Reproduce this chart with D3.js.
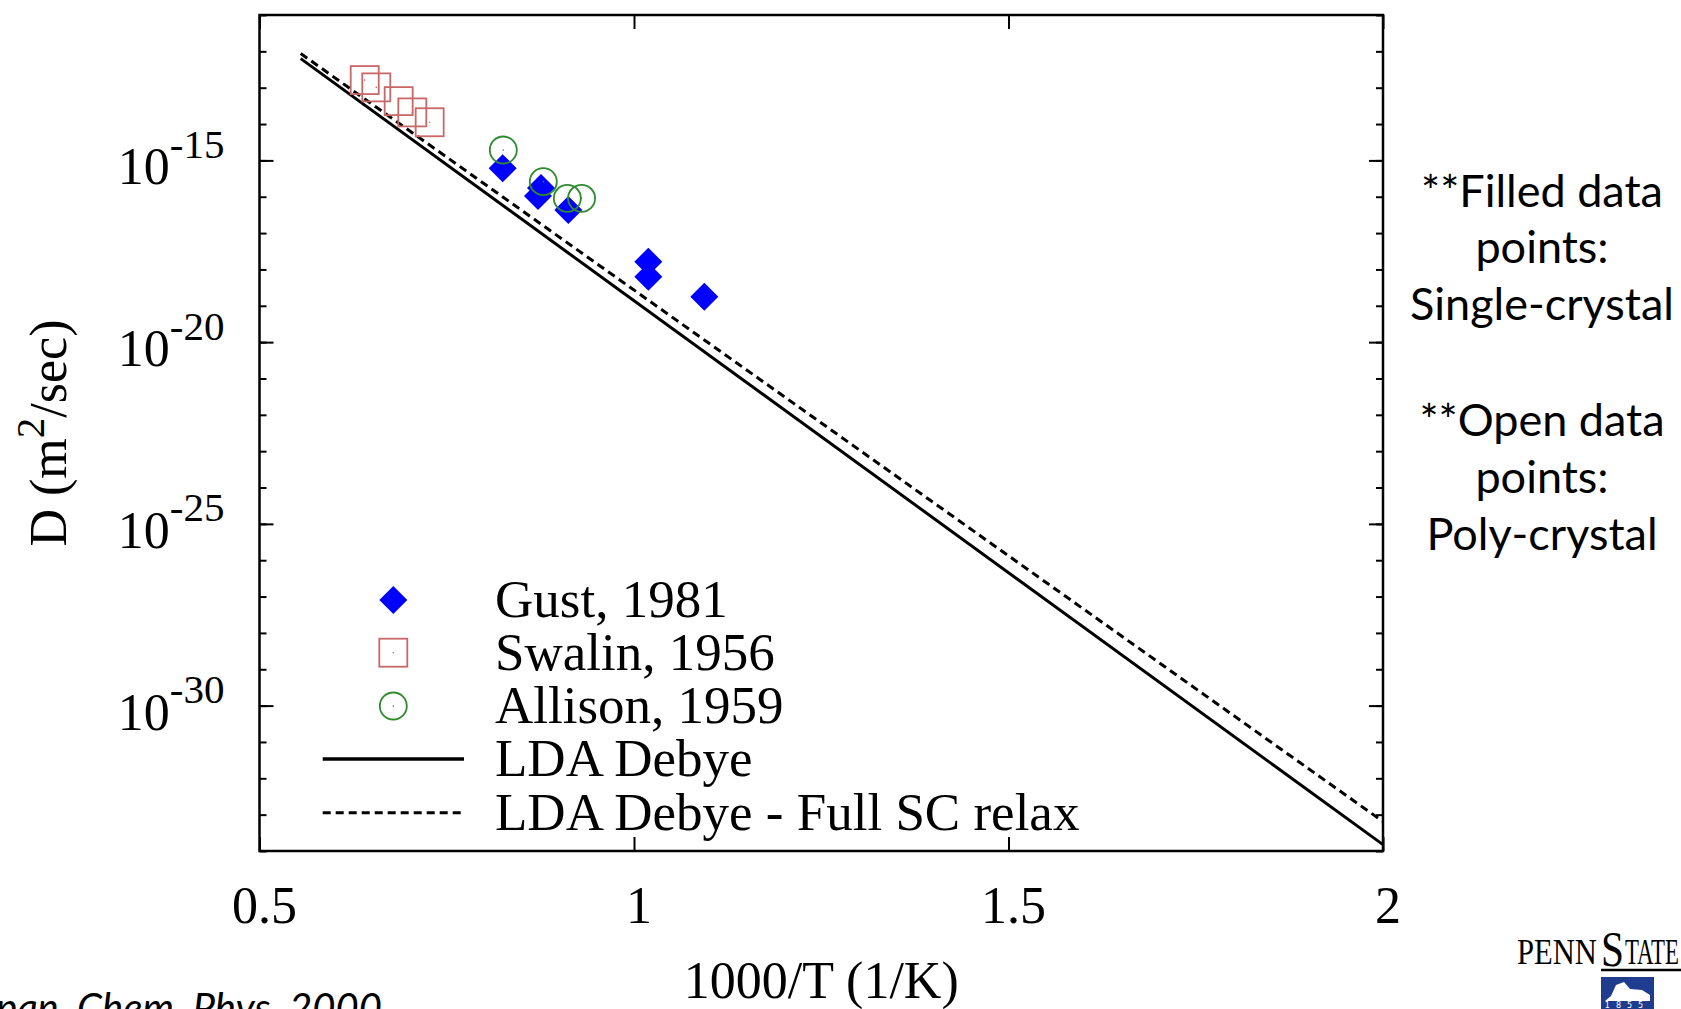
<!DOCTYPE html>
<html>
<head>
<meta charset="utf-8">
<script src="https://cdn.jsdelivr.net/npm/d3@7"></script>
<style>
  body { margin: 0; background: #fff; }
  svg { display: block; }
  .serif { font-family: "Liberation Serif", "DejaVu Serif", serif; fill: #000; }
  .note { font-family: Lato, "Open Sans", sans-serif; fill: #000; }
</style>
</head>
<body>
<svg id="svg"></svg>
<script>
//data

let gustX = [0.8247, 0.8758, 0.8718, 0.9123, 1.0191, 1.0191, 1.0939];
let gustD = [6.07e-16, 1.74e-16, 1.05e-16, 4.31e-17, 1.63e-18, 6.3e-19, 1.78e-19];

let swalinX = [0.6405, 0.6559, 0.6858, 0.7040, 0.7272];
let swalinD = [1.62e-13, 1.02e-13, 4.27e-14, 2.09e-14, 1.12e-14];

let allisonX = [0.8255, 0.8789, 0.911, 0.930];
let allisonD = [1.93e-15, 2.6e-16, 9.06e-17, 9.06e-17];

let ldaX = [0.555, 2.0];
let ldaD = [6.3e-13, 1.5e-34];
let relaxX = [0.555, 2.0];
let relaxD = [8.7e-13, 6.46e-34];

let xTicks = [0.5, 1, 1.5, 2];
let xTickLabels = ["0.5", "1", "1.5", "2"];
let yTickExps = [-30, -25, -20, -15];
let legendLabels = ["Gust, 1981", "Swalin, 1956", "Allison, 1959", "LDA Debye", "LDA Debye - Full SC relax"];
let noteLines = ["**Filled data", "points:", "Single-crystal", "**Open data", "points:", "Poly-crystal"];

//variables

let width = 1681;
let height = 1009;
let plotLeft = 259.5, plotRight = 1383, plotTop = 15, plotBottom = 851;

let blue = "#0000ff";
let red = "#c86868";
let green = "#2e8b2e";

let svg = d3.select("#svg").attr("width", width).attr("height", height);

let xScale = d3.scaleLinear().domain([0.5, 2]).range([plotLeft, plotRight]);
let yScale = d3.scaleLog().domain([1e-34, 1e-11]).range([plotBottom, plotTop]);

//axes

let makeAxes = () => {
  let minorY = d3.range(-34, -10).map(e => Math.pow(10, e));
  let majorY = yTickExps.map(e => Math.pow(10, e));

  let addAxis = (axis, tx, ty) => {
    svg.append("g")
      .attr("transform", "translate(" + tx + "," + ty + ")")
      .call(axis)
      .call(g => g.select(".domain").remove())
      .call(g => g.selectAll("line").attr("stroke", "#000").attr("stroke-width", 2));
  };

  addAxis(d3.axisLeft(yScale).tickValues(minorY).tickSize(-7).tickFormat(""), plotLeft, 0);
  addAxis(d3.axisLeft(yScale).tickValues(majorY).tickSize(-14).tickFormat(""), plotLeft, 0);
  addAxis(d3.axisRight(yScale).tickValues(minorY).tickSize(-7).tickFormat(""), plotRight, 0);
  addAxis(d3.axisRight(yScale).tickValues(majorY).tickSize(-14).tickFormat(""), plotRight, 0);
  addAxis(d3.axisBottom(xScale).tickValues(xTicks).tickSize(-14).tickFormat(""), 0, plotBottom);
  addAxis(d3.axisTop(xScale).tickValues(xTicks).tickSize(-14).tickFormat(""), 0, plotTop);

  svg.append("rect")
    .attr("x", plotLeft).attr("y", plotTop)
    .attr("width", plotRight - plotLeft).attr("height", plotBottom - plotTop)
    .attr("fill", "none").attr("stroke", "#000").attr("stroke-width", 2.5);

  svg.selectAll(".xlab")
    .data(xTicks)
    .enter()
    .append("text")
    .attr("class", "serif xlab")
    .attr("x", d => xScale(d) + 5)
    .attr("y", plotBottom + 72)
    .attr("text-anchor", "middle")
    .attr("font-size", 52)
    .text((d, i) => xTickLabels[i]);

  let ylab = svg.selectAll(".ylab")
    .data(yTickExps)
    .enter()
    .append("text")
    .attr("class", "serif ylab")
    .attr("x", plotLeft - 35)
    .attr("y", d => yScale(Math.pow(10, d)) + 24)
    .attr("text-anchor", "end")
    .attr("font-size", 52);
  ylab.append("tspan").text("10");
  ylab.append("tspan").attr("dy", -26.5).attr("font-size", 41).text(d => String(d));

  svg.append("text")
    .attr("class", "serif")
    .attr("x", (plotLeft + plotRight) / 2)
    .attr("y", 998)
    .attr("text-anchor", "middle")
    .attr("font-size", 52)
    .text("1000/T (1/K)");

  let ytitle = svg.append("text")
    .attr("class", "serif")
    .attr("transform", "translate(66," + (plotTop + plotBottom) / 2 + ") rotate(-90)")
    .attr("text-anchor", "middle")
    .attr("font-size", 52);
  ytitle.append("tspan").text("D (m");
  ytitle.append("tspan").attr("dy", -22).attr("font-size", 41).text("2");
  ytitle.append("tspan").attr("dy", 22).text("/sec)");
}

//marks

let drawDiamond = (g, x, y) => {
  g.append("path")
    .attr("d", d3.symbol(d3.symbolSquare, 392)())
    .attr("transform", "translate(" + x + "," + y + ") rotate(45)")
    .attr("fill", blue);
}

let drawSquare = (g, x, y) => {
  g.append("rect")
    .attr("x", x - 14).attr("y", y - 14)
    .attr("width", 28).attr("height", 28)
    .attr("fill", "none").attr("stroke", red).attr("stroke-width", 1.8);
  g.append("circle").attr("cx", x).attr("cy", y).attr("r", 0.8).attr("fill", red);
}

let drawCircle = (g, x, y) => {
  g.append("circle")
    .attr("cx", x).attr("cy", y).attr("r", 13.5)
    .attr("fill", "none").attr("stroke", green).attr("stroke-width", 1.8);
  g.append("circle").attr("cx", x).attr("cy", y).attr("r", 0.8).attr("fill", green);
}

let makeGraph = () => {
  let line = d3.line()
    .x(d => xScale(d[0]))
    .y(d => yScale(d[1]));

  svg.append("path")
    .datum(d3.zip(ldaX, ldaD))
    .attr("d", line)
    .attr("fill", "none")
    .attr("stroke", "#000")
    .attr("stroke-width", 3);

  svg.append("path")
    .datum(d3.zip(relaxX, relaxD))
    .attr("d", line)
    .attr("fill", "none")
    .attr("stroke", "#000")
    .attr("stroke-width", 3)
    .attr("stroke-dasharray", "8,5");

  let pts = svg.append("g");
  swalinX.forEach((x, i) => drawSquare(pts, xScale(x), yScale(swalinD[i])));
  gustX.forEach((x, i) => drawDiamond(pts, xScale(x), yScale(gustD[i])));
  allisonX.forEach((x, i) => drawCircle(pts, xScale(x), yScale(allisonD[i])));
}

let makeLegend = () => {
  let lg = svg.append("g");
  let rowY = [600, 652.7, 706, 759, 812.7];
  let mx = 393.3;

  drawDiamond(lg, mx, rowY[0]);
  drawSquare(lg, mx, rowY[1]);
  drawCircle(lg, mx, rowY[2]);
  lg.append("line")
    .attr("x1", 322.7).attr("x2", 464).attr("y1", rowY[3]).attr("y2", rowY[3])
    .attr("stroke", "#000").attr("stroke-width", 3.5);
  lg.append("line")
    .attr("x1", 322.7).attr("x2", 464).attr("y1", rowY[4]).attr("y2", rowY[4])
    .attr("stroke", "#000").attr("stroke-width", 3).attr("stroke-dasharray", "8,5");

  lg.selectAll("text")
    .data(legendLabels)
    .enter()
    .append("text")
    .attr("class", "serif")
    .attr("x", 495)
    .attr("y", (d, i) => rowY[i] + 17)
    .attr("font-size", 53)
    .text(d => d);
}

let makeNotes = () => {
  let baselines = [207, 263, 319.5, 436, 493, 550];
  svg.selectAll(".note")
    .data(noteLines)
    .enter()
    .append("text")
    .attr("class", "note")
    .attr("x", 1542)
    .attr("y", (d, i) => baselines[i])
    .attr("text-anchor", "middle")
    .attr("font-size", 45)
    .text(d => d);

  svg.append("text")
    .attr("class", "note")
    .attr("x", -4)
    .attr("y", 1022)
    .attr("font-size", 40)
    .attr("font-style", "italic")
    .text("pan, Chem. Phys. 2000");

  // Penn State mark
  svg.append("text")
    .attr("class", "serif")
    .attr("x", 1517).attr("y", 964)
    .attr("font-size", 36)
    .attr("textLength", 80)
    .attr("lengthAdjust", "spacingAndGlyphs")
    .text("PENN");
  svg.append("text")
    .attr("class", "serif")
    .attr("x", 1601).attr("y", 966)
    .attr("font-size", 50)
    .attr("textLength", 23)
    .attr("lengthAdjust", "spacingAndGlyphs")
    .text("S");
  svg.append("text")
    .attr("class", "serif")
    .attr("x", 1625).attr("y", 964)
    .attr("font-size", 36)
    .attr("textLength", 54)
    .attr("lengthAdjust", "spacingAndGlyphs")
    .text("TATE");

  svg.append("line")
    .attr("x1", 1601).attr("x2", 1681).attr("y1", 970).attr("y2", 970)
    .attr("stroke", "#000").attr("stroke-width", 2.5);
  svg.append("rect")
    .attr("x", 1601).attr("y", 977).attr("width", 53).attr("height", 40)
    .attr("fill", "#1f3c8f");
  svg.append("path")
    .attr("d", "M1605,1001 L1611,996 L1616,985 L1624,982 L1630,989 L1642,990 L1650,995 L1650,1001 Z")
    .attr("fill", "#fff");
  svg.append("text")
    .attr("x", 1627).attr("y", 1008)
    .attr("text-anchor", "middle")
    .attr("font-size", 8)
    .attr("letter-spacing", 6)
    .attr("fill", "#fff")
    .attr("font-family", "DejaVu Sans")
    .text("1855");
}

makeAxes();
makeGraph();
makeLegend();
makeNotes();
</script>
</body>
</html>
